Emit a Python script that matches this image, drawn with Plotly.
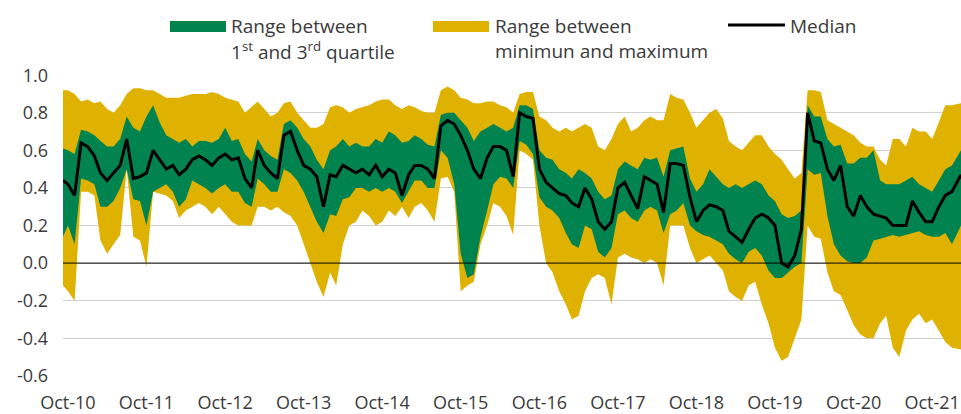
import pandas as pd
import plotly.graph_objects as go

# Dates: first point at left edge, then month starts, last point at right edge
dates = ["2010-09-08"] + [d.strftime("%Y-%m-%d") for d in pd.date_range("2010-10-01", "2022-01-01", freq="MS")] + ["2022-02-12"]

max_vals = [0.92, 0.92, 0.90, 0.86, 0.87, 0.85, 0.86, 0.82, 0.80, 0.84, 0.90, 0.93, 0.93, 0.92, 0.92, 0.90, 0.88, 0.88, 0.88, 0.89, 0.90, 0.90,
            0.90, 0.91, 0.90, 0.88, 0.87, 0.86, 0.80, 0.83, 0.86, 0.82, 0.78, 0.80, 0.85, 0.86, 0.80, 0.76, 0.72, 0.72, 0.74, 0.83, 0.84, 0.83, 0.80,
            0.82, 0.83, 0.84, 0.86, 0.87, 0.87, 0.84, 0.82, 0.84, 0.83, 0.81, 0.80, 0.80, 0.92, 0.94, 0.92, 0.88, 0.87, 0.85, 0.85, 0.86, 0.86, 0.84, 0.83, 0.80,
            0.90, 0.91, 0.91, 0.78, 0.76, 0.72, 0.70, 0.72, 0.70, 0.72, 0.74, 0.72, 0.62, 0.60, 0.66, 0.74, 0.78, 0.70, 0.72, 0.76, 0.78, 0.76, 0.76, 0.90, 0.88,
            0.87, 0.80, 0.72, 0.76, 0.80, 0.82, 0.77, 0.65, 0.62, 0.60, 0.64, 0.68, 0.68, 0.62, 0.58, 0.55, 0.50, 0.45, 0.48, 0.92, 0.92, 0.91,
            0.76, 0.74, 0.72, 0.70, 0.68, 0.64, 0.62, 0.62, 0.55, 0.52, 0.66, 0.66, 0.62, 0.72, 0.70, 0.70, 0.66, 0.75, 0.84, 0.84, 0.85]

q3_vals = [0.61, 0.60, 0.58, 0.71, 0.70, 0.68, 0.65, 0.62, 0.62, 0.66, 0.78, 0.72, 0.70, 0.78, 0.84, 0.75, 0.68, 0.66, 0.64, 0.66, 0.62, 0.65,
           0.65, 0.64, 0.66, 0.72, 0.65, 0.66, 0.58, 0.54, 0.66, 0.60, 0.57, 0.55, 0.74, 0.76, 0.72, 0.66, 0.62, 0.55, 0.50, 0.60, 0.62, 0.66, 0.62,
           0.64, 0.62, 0.62, 0.66, 0.64, 0.70, 0.68, 0.64, 0.65, 0.68, 0.66, 0.63, 0.62, 0.79, 0.80, 0.80, 0.76, 0.72, 0.65, 0.70, 0.72, 0.74, 0.72, 0.70, 0.72,
           0.84, 0.84, 0.82, 0.60, 0.56, 0.55, 0.50, 0.48, 0.45, 0.50, 0.48, 0.45, 0.38, 0.34, 0.36, 0.50, 0.54, 0.52, 0.50, 0.56, 0.55, 0.56, 0.46, 0.60, 0.61,
           0.62, 0.45, 0.38, 0.42, 0.50, 0.46, 0.42, 0.40, 0.42, 0.40, 0.42, 0.44, 0.42, 0.36, 0.33, 0.26, 0.24, 0.25, 0.28, 0.84, 0.78, 0.78,
           0.66, 0.62, 0.63, 0.53, 0.53, 0.56, 0.56, 0.60, 0.44, 0.42, 0.42, 0.42, 0.44, 0.46, 0.42, 0.40, 0.38, 0.44, 0.50, 0.52, 0.60]

median_vals = [0.44, 0.42, 0.36, 0.64, 0.62, 0.57, 0.48, 0.44, 0.48, 0.52, 0.66, 0.45, 0.46, 0.48, 0.60, 0.55, 0.50, 0.52, 0.47, 0.50, 0.55, 0.57,
               0.55, 0.52, 0.56, 0.58, 0.55, 0.56, 0.45, 0.40, 0.60, 0.52, 0.48, 0.45, 0.68, 0.70, 0.60, 0.52, 0.50, 0.46, 0.30, 0.47, 0.46, 0.52, 0.50,
               0.48, 0.50, 0.47, 0.52, 0.46, 0.50, 0.48, 0.36, 0.47, 0.52, 0.52, 0.50, 0.45, 0.73, 0.76, 0.74, 0.68, 0.60, 0.50, 0.45, 0.56, 0.62, 0.62, 0.60, 0.46,
               0.80, 0.78, 0.77, 0.50, 0.43, 0.40, 0.37, 0.36, 0.32, 0.30, 0.40, 0.34, 0.22, 0.18, 0.22, 0.40, 0.43, 0.36, 0.29, 0.46, 0.44, 0.42, 0.27, 0.53, 0.53,
               0.52, 0.35, 0.22, 0.28, 0.31, 0.30, 0.28, 0.17, 0.14, 0.11, 0.18, 0.24, 0.26, 0.24, 0.20, 0.00, -0.02, 0.04, 0.18, 0.80, 0.65, 0.64,
               0.50, 0.44, 0.52, 0.30, 0.25, 0.36, 0.30, 0.26, 0.25, 0.24, 0.20, 0.20, 0.20, 0.33, 0.27, 0.22, 0.22, 0.30, 0.36, 0.38, 0.47]

q1_vals = [0.14, 0.20, 0.10, 0.45, 0.44, 0.42, 0.30, 0.30, 0.33, 0.40, 0.50, 0.34, 0.33, 0.20, 0.38, 0.40, 0.42, 0.38, 0.30, 0.34, 0.44, 0.42,
           0.40, 0.37, 0.40, 0.42, 0.38, 0.38, 0.32, 0.30, 0.45, 0.42, 0.38, 0.38, 0.50, 0.48, 0.44, 0.38, 0.30, 0.22, 0.16, 0.26, 0.25, 0.34, 0.35,
           0.40, 0.40, 0.38, 0.40, 0.38, 0.40, 0.38, 0.32, 0.38, 0.44, 0.44, 0.40, 0.40, 0.60, 0.56, 0.42, 0.05, -0.08, -0.06, 0.14, 0.28, 0.42, 0.46, 0.45, 0.40,
           0.65, 0.63, 0.58, 0.35, 0.30, 0.28, 0.24, 0.16, 0.10, 0.08, 0.20, 0.18, 0.06, 0.03, 0.08, 0.26, 0.28, 0.24, 0.22, 0.28, 0.30, 0.28, 0.16, 0.26, 0.28,
           0.32, 0.20, 0.17, 0.15, 0.14, 0.12, 0.10, 0.05, 0.02, 0.00, 0.06, 0.08, 0.04, -0.04, -0.08, -0.08, -0.05, -0.02, 0.00, 0.50, 0.47, 0.48,
           0.25, 0.10, 0.04, 0.01, 0.00, 0.00, 0.03, 0.12, 0.13, 0.14, 0.15, 0.14, 0.15, 0.16, 0.17, 0.15, 0.14, 0.14, 0.16, 0.10, 0.20]

min_vals = [-0.12, -0.15, -0.20, 0.38, 0.38, 0.36, 0.12, 0.05, 0.10, 0.15, 0.50, 0.14, 0.12, -0.02, 0.38, 0.37, 0.36, 0.33, 0.24, 0.28, 0.30, 0.32,
            0.30, 0.26, 0.30, 0.26, 0.22, 0.20, 0.20, 0.20, 0.30, 0.30, 0.28, 0.30, 0.27, 0.25, 0.20, 0.10, 0.00, -0.10, -0.18, -0.05, -0.12, 0.10, 0.20,
            0.22, 0.28, 0.25, 0.20, 0.22, 0.28, 0.25, 0.30, 0.24, 0.30, 0.32, 0.28, 0.22, 0.45, 0.46, 0.38, -0.15, -0.12, -0.10, 0.10, 0.20, 0.32, 0.30, 0.25, 0.15,
            0.60, 0.58, 0.55, 0.20, 0.00, -0.05, -0.15, -0.22, -0.30, -0.28, -0.15, -0.08, -0.06, -0.08, -0.22, 0.03, 0.05, 0.03, 0.02, 0.00, 0.02, 0.00, -0.12, 0.20, 0.20,
            0.20, 0.08, 0.00, 0.02, 0.04, 0.00, -0.04, -0.15, -0.18, -0.20, -0.12, -0.10, -0.22, -0.32, -0.45, -0.52, -0.50, -0.40, -0.30, 0.20, 0.14, 0.13,
            -0.05, -0.15, -0.17, -0.25, -0.33, -0.38, -0.40, -0.40, -0.32, -0.28, -0.45, -0.50, -0.36, -0.30, -0.27, -0.32, -0.30, -0.36, -0.42, -0.45, -0.46]

x_tick_vals = ["2010-10-01", "2011-10-01", "2012-10-01", "2013-10-01", "2014-10-01", "2015-10-01",
               "2016-10-01", "2017-10-01", "2018-10-01", "2019-10-01", "2020-10-01", "2021-10-01"]
x_tick_text = ["Oct-10", "Oct-11", "Oct-12", "Oct-13", "Oct-14", "Oct-15",
               "Oct-16", "Oct-17", "Oct-18", "Oct-19", "Oct-20", "Oct-21"]
y_tick_vals = [1.0, 0.8, 0.6, 0.4, 0.2, 0.0, -0.2, -0.4, -0.6]
y_tick_text = ["1.0", "0.8", "0.6", "0.4", "0.2", "0.0", "-0.2", "-0.4", "-0.6"]

legend_labels = ["Range between<br>1<sup>st</sup> and 3<sup>rd</sup> quartile",
                 "Range between<br>minimun and maximum",
                 "Median"]

GREEN = "#00834F"
YELLOW = "#DFB100"
FONT = "Open Sans"
TXT = "#3a3a3a"

fig = go.Figure()
fig.add_trace(go.Scatter(x=dates, y=max_vals, mode="lines", line=dict(width=0, color=YELLOW),
                         showlegend=False, hoverinfo="skip"))
fig.add_trace(go.Scatter(x=dates, y=min_vals, mode="lines", line=dict(width=0, color=YELLOW),
                         fill="tonexty", fillcolor=YELLOW, showlegend=False, hoverinfo="skip"))
fig.add_trace(go.Scatter(x=dates, y=q3_vals, mode="lines", line=dict(width=0, color=GREEN),
                         showlegend=False, hoverinfo="skip"))
fig.add_trace(go.Scatter(x=dates, y=q1_vals, mode="lines", line=dict(width=0, color=GREEN),
                         fill="tonexty", fillcolor=GREEN, showlegend=False, hoverinfo="skip"))
fig.add_trace(go.Scatter(x=dates, y=median_vals, mode="lines", line=dict(width=3, color="black"),
                         showlegend=False))

# plot area in pixels: x 63..961, y 75..376
L, R, T, B = 63, 961, 75, 376
W, H = R - L, B - T

def px(xp):
    return (xp - L) / W

def py(yp):
    return (B - yp) / H

shapes = [
    dict(type="line", xref="paper", yref="y", x0=0, x1=1, y0=0, y1=0,
         line=dict(color="black", width=1), layer="above"),
    dict(type="rect", xref="paper", yref="paper", x0=px(170), x1=px(226), y0=py(32), y1=py(21),
         fillcolor=GREEN, line=dict(width=0)),
    dict(type="rect", xref="paper", yref="paper", x0=px(433), x1=px(489), y0=py(32), y1=py(21),
         fillcolor=YELLOW, line=dict(width=0)),
    dict(type="line", xref="paper", yref="paper", x0=px(728), x1=px(785), y0=py(25), y1=py(25),
         line=dict(color="black", width=3)),
]

annotations = []
for xpos, label in [(229, legend_labels[0]), (493, legend_labels[1]), (788, legend_labels[2])]:
    lines = label.split("<br>")
    for i, ln in enumerate(lines):
        annotations.append(dict(xref="paper", yref="paper", x=px(xpos), y=py(26 + 25 * i),
                                xanchor="left", yanchor="middle", text=ln, showarrow=False,
                                font=dict(family=FONT, size=19, color=TXT)))

fig.update_layout(
    width=961, height=414,
    margin=dict(l=L, r=961 - R, t=T, b=414 - B),
    paper_bgcolor="white", plot_bgcolor="white",
    shapes=shapes, annotations=annotations,
    showlegend=False,
    xaxis=dict(type="date", range=["2010-09-08", "2022-02-12"], tickvals=x_tick_vals, ticktext=x_tick_text,
               showgrid=False, zeroline=False, showline=False, ticks="",
               tickfont=dict(family=FONT, size=18, color=TXT), ticklabelstandoff=14),
    yaxis=dict(range=[-0.601, 1.001], tickvals=y_tick_vals, ticktext=y_tick_text,
               showgrid=True, gridcolor="#d0d0d0", gridwidth=1, zeroline=False, showline=False, ticks="",
               tickfont=dict(family=FONT, size=18, color=TXT), ticklabelstandoff=14),
)

fig.write_html("out.html", config={"displayModeBar": False},
               post_script="document.body.style.margin='0px';document.body.style.overflow='hidden';")
